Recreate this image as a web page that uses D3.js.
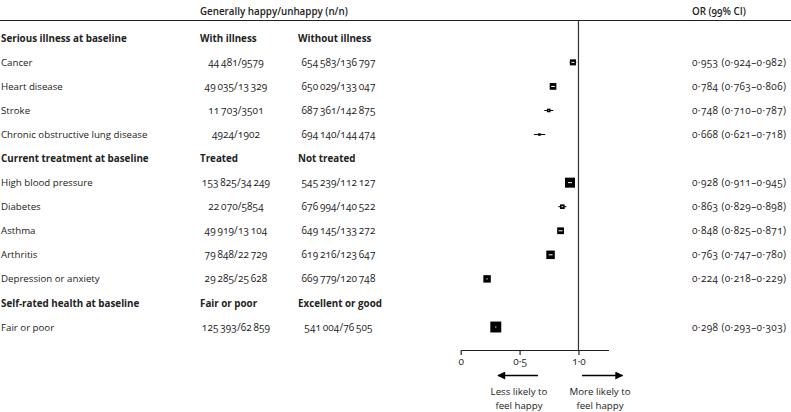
<!DOCTYPE html>
<html><head><meta charset="utf-8">
<script src="https://cdn.jsdelivr.net/npm/d3@7"></script>
<style>
body{margin:0;background:#fff;}
text{font-family:"Open Sans",Lato,sans-serif;font-size:9.7px;fill:#222;font-feature-settings:"onum" 1;}
text.num{font-size:10px;letter-spacing:0.1px;}
text.ort{font-size:10px;letter-spacing:0.4px;}
text.hd{font-weight:700;font-size:9.8px;}
</style></head>
<body><svg id="c" width="791" height="412"></svg>
<script>
const rowLabels = ["Serious illness at baseline","Cancer","Heart disease","Stroke","Chronic obstructive lung disease",
  "Current treatment at baseline","High blood pressure","Diabetes","Asthma","Arthritis","Depression or anxiety",
  "Self-rated health at baseline","Fair or poor"];
const isHeader = [true,false,false,false,false,true,false,false,false,false,false,true,false];
const col1 = ["With illness","44481/9579","49035/13329","11703/3501","4924/1902",
  "Treated","153825/34249","22070/5854","49919/13104","79848/22729","29285/25628",
  "Fair or poor","125393/62859"];
const col2 = ["Without illness","654583/136797","650029/133047","687361/142875","694140/144474",
  "Not treated","545239/112127","676994/140522","649145/133272","619216/123647","669779/120748",
  "Excellent or good","541004/76505"];
const orVal = [null,0.953,0.784,0.748,0.668,null,0.928,0.863,0.848,0.763,0.224,null,0.298];
const ciLo  = [null,0.924,0.763,0.710,0.621,null,0.911,0.829,0.825,0.747,0.218,null,0.293];
const ciHi  = [null,0.982,0.806,0.787,0.718,null,0.945,0.898,0.871,0.780,0.229,null,0.303];
const xTicks = [0,0.5,1];

const svg = d3.select("#c");
const W = 791;
const fmtNum = s => s.split("/").map(p => p.length >= 5 ? p.replace(/(\d)(?=(\d{3})+$)/g, "$1\u2009") : p).join("/");
const fmt3 = v => d3.format(".3f")(v).replace(".", "\u00b7");

const y = d3.scaleLinear().domain([0, 12]).range([38.3, 327]);
const x = d3.scaleLinear().domain([0, 1.255]).range([460.7, 608.5]);
const sizeScale = d3.scaleLinear().domain([0, 30]).range([0, 11]);

// Header
svg.append("text").attr("class", "hd").attr("x", 200).attr("y", 15).style("font-weight","600").text("Generally happy/unhappy (n/n)");
svg.append("text").attr("class", "hd").attr("x", 692).attr("y", 15).style("font-weight","600").text("OR (99% CI)");
svg.append("line").attr("x1", 0).attr("x2", W).attr("y1", 20.5).attr("y2", 20.5)
  .attr("stroke", "#222").attr("stroke-width", 1);

const rows = svg.append("g").selectAll("g").data(rowLabels.map((l, i) => ({
  label: l, hdr: isHeader[i], c1: col1[i], c2: col2[i], or: orVal[i], lo: ciLo[i], hi: ciHi[i], i
}))).join("g").attr("transform", d => `translate(0,${y(d.i)})`);

rows.append("text").attr("x", 1).attr("y", 3.6)
  .attr("class", d => d.hdr ? "hd" : null).text(d => d.label);
rows.append("text").attr("x", d => d.hdr ? 200 : 236).attr("y", 3.6)
  .attr("text-anchor", d => d.hdr ? "start" : "middle")
  .attr("class", d => d.hdr ? "hd" : "num").text(d => d.hdr ? d.c1 : fmtNum(d.c1));
rows.append("text").attr("x", d => d.hdr ? 298 : 338.5).attr("y", 3.6)
  .attr("text-anchor", d => d.hdr ? "start" : "middle")
  .attr("class", d => d.hdr ? "hd" : "num").text(d => d.hdr ? d.c2 : fmtNum(d.c2));
rows.filter(d => !d.hdr).append("text").attr("class", "ort").attr("x", 692).attr("y", 3.6)
  .text(d => `${fmt3(d.or)} (${fmt3(d.lo)}\u2013${fmt3(d.hi)})`);

// Reference line
svg.append("line").attr("x1", x(1)).attr("x2", x(1)).attr("y1", 20.5).attr("y2", 350)
  .attr("stroke", "#333").attr("stroke-width", 1.2);

// Markers
const pts = rows.filter(d => !d.hdr);
pts.append("line").attr("x1", d => x(d.lo)).attr("x2", d => x(d.hi)).attr("y1", 0).attr("y2", 0)
  .attr("stroke", "#000").attr("stroke-width", 1);
pts.each(function(d) {
  const s = sizeScale(1 / Math.log(d.hi / d.lo));
  const g = d3.select(this);
  g.append("rect").attr("x", x(d.or) - s / 2).attr("y", -s / 2).attr("width", s).attr("height", s).attr("fill", "#000");
  const a = Math.max(x(d.lo), x(d.or) - s / 2 + 1.5), b = Math.min(x(d.hi), x(d.or) + s / 2 - 1.5);
  if (b > a) g.append("line").attr("x1", a).attr("x2", b).attr("y1", 0).attr("y2", 0)
    .attr("stroke", "#fff").attr("stroke-width", 1);
  else if (s > 5) g.append("rect").attr("x", x(d.or) - 0.5).attr("y", -0.5).attr("width", 1).attr("height", 1).attr("fill", "#fff");
});

// Axis
const ax = svg.append("g").attr("transform", "translate(0,350)")
  .call(d3.axisBottom(x).tickValues(xTicks).tickSizeOuter(0).tickSizeInner(5).tickPadding(3)
    .tickFormat(d => d === 0 ? "0" : d3.format(".1f")(d).replace(".", "\u00b7")));
ax.select(".domain").attr("stroke", "#222").attr("stroke-width", 1.2);
ax.selectAll(".tick line").attr("stroke", "#222").attr("stroke-width", 1.2);
ax.selectAll(".tick text").style("font-family", "'Open Sans', sans-serif").style("font-size", "10px").attr("fill", "#222");

// Arrows
const defs = svg.append("defs");
defs.append("marker").attr("id", "ah").attr("viewBox", "0 0 10 10").attr("refX", 9).attr("refY", 5)
  .attr("markerWidth", 9).attr("markerHeight", 8).attr("markerUnits", "userSpaceOnUse").attr("orient", "auto")
  .append("path").attr("d", "M0,0L10,5L0,10Z").attr("fill", "#000");
svg.append("line").attr("x1", 538).attr("x2", 498).attr("y1", 375.5).attr("y2", 375.5)
  .attr("stroke", "#000").attr("stroke-width", 1.3).attr("marker-end", "url(#ah)");
svg.append("line").attr("x1", 582).attr("x2", 622.5).attr("y1", 375.5).attr("y2", 375.5)
  .attr("stroke", "#000").attr("stroke-width", 1.3).attr("marker-end", "url(#ah)");

const note = [["Less likely to", "feel happy", 519], ["More likely to", "feel happy", 600]];
note.forEach(([a, b, cx]) => {
  svg.append("text").attr("x", cx).attr("y", 395).attr("text-anchor", "middle").text(a);
  svg.append("text").attr("x", cx).attr("y", 408.5).attr("text-anchor", "middle").text(b);
});
</script></body></html>
